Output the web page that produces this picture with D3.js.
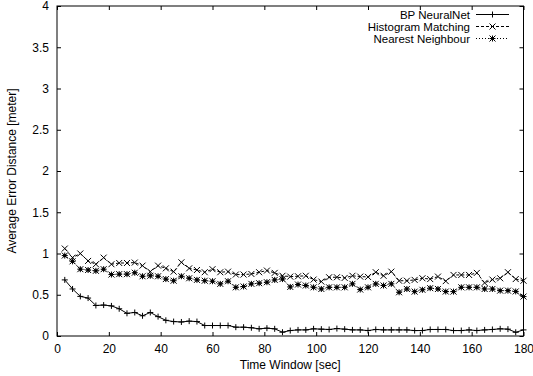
<!DOCTYPE html>
<html><head><meta charset="utf-8">
<script src="https://cdn.jsdelivr.net/npm/d3@7"></script>
<style>
body{margin:0;background:#fff;}
text{font-family:"Liberation Sans",Arial,sans-serif;font-size:12px;fill:#000;}
</style></head><body>
<svg id="c" width="533" height="376"></svg>
<script>
const times = d3.range(3, 181, 3);
const bpNeuralNet = [0.68,0.57,0.48,0.46,0.37,0.375,0.365,0.33,0.275,0.285,
  0.245,0.285,0.235,0.19,0.175,0.17,0.18,0.175,0.127,0.127,
  0.127,0.127,0.107,0.107,0.10,0.087,0.095,0.087,0.046,0.066,
  0.074,0.074,0.087,0.083,0.079,0.09,0.083,0.074,0.074,0.066,
  0.079,0.074,0.074,0.074,0.074,0.066,0.066,0.079,0.079,0.079,
  0.066,0.066,0.074,0.066,0.074,0.079,0.087,0.083,0.045,0.074];
const histogramMatching = [1.06,0.95,1.0,0.91,0.87,0.95,0.87,0.885,0.885,0.89,
  0.853,0.78,0.853,0.82,0.78,0.893,0.82,0.80,0.773,0.81,
  0.773,0.78,0.745,0.745,0.752,0.773,0.793,0.765,0.73,0.72,
  0.724,0.73,0.684,0.66,0.712,0.712,0.704,0.73,0.72,0.716,
  0.773,0.73,0.78,0.67,0.67,0.68,0.70,0.69,0.72,0.665,
  0.74,0.74,0.74,0.765,0.644,0.684,0.70,0.773,0.69,0.67];
const nearestNeighbour = [0.975,0.905,0.81,0.80,0.79,0.81,0.745,0.75,0.75,0.767,
  0.724,0.73,0.724,0.69,0.67,0.724,0.70,0.68,0.67,0.664,
  0.632,0.664,0.59,0.60,0.632,0.64,0.652,0.68,0.69,0.595,
  0.624,0.612,0.59,0.57,0.59,0.59,0.59,0.632,0.563,0.59,
  0.632,0.612,0.632,0.53,0.57,0.538,0.56,0.58,0.57,0.539,
  0.538,0.59,0.59,0.59,0.57,0.57,0.55,0.55,0.54,0.478];
const xTicks = d3.range(0, 181, 20);
const yTicks = [0,0.5,1,1.5,2,2.5,3,3.5,4];
const seriesNames = ["BP NeuralNet","Histogram Matching","Nearest Neighbour"];

const svg = d3.select("#c");
const L=57, R=523.5, T=6, B=336;
const x = d3.scaleLinear().domain([0,180]).range([L,R]);
const y = d3.scaleLinear().domain([0,4]).range([B,T]);

const tl = 4;
const gB = svg.append("g").attr("transform",`translate(0,${B})`)
  .call(d3.axisBottom(x).tickValues(xTicks).tickSizeInner(-tl).tickSizeOuter(0).tickPadding(8).tickFormat(d3.format("d")));
const gT = svg.append("g").attr("transform",`translate(0,${T})`)
  .call(d3.axisTop(x).tickValues(xTicks).tickSizeInner(-tl).tickSizeOuter(0).tickFormat(""));
const gL = svg.append("g").attr("transform",`translate(${L},0)`)
  .call(d3.axisLeft(y).tickValues(yTicks).tickSizeInner(-tl).tickSizeOuter(0).tickPadding(8).tickFormat(d=>d3.format("")(d)));
const gR = svg.append("g").attr("transform",`translate(${R},0)`)
  .call(d3.axisRight(y).tickValues(yTicks).tickSizeInner(-tl).tickSizeOuter(0).tickFormat(""));
[gB,gT,gL,gR].forEach(g=>{
  g.select(".domain").remove();
  g.selectAll("line").attr("stroke","#000");
  g.selectAll("text").style("font-family","'Liberation Sans',Arial,sans-serif").style("font-size","12px").attr("fill","#000");
});
svg.append("rect").attr("x",L).attr("y",T).attr("width",R-L).attr("height",B-T)
  .attr("fill","none").attr("stroke","#000").attr("stroke-width",1);

svg.append("text").attr("x",(L+R)/2).attr("y",369).attr("text-anchor","middle").text("Time Window [sec]");
svg.append("text").attr("transform",`translate(16,${(T+B)/2}) rotate(-90)`).attr("text-anchor","middle").text("Average Error Distance [meter]");

function plus(g,cx,cy,s){g.append("path").attr("d",`M${cx-s},${cy}H${cx+s}M${cx},${cy-s}V${cy+s}`).attr("stroke","#000").attr("fill","none");}
function cross(g,cx,cy,s){g.append("path").attr("d",`M${cx-s},${cy-s}L${cx+s},${cy+s}M${cx-s},${cy+s}L${cx+s},${cy-s}`).attr("stroke","#000").attr("fill","none");}
function star(g,cx,cy,s){plus(g,cx,cy,s);cross(g,cx,cy,s);
  g.append("rect").attr("x",cx-1.5).attr("y",cy-1.5).attr("width",3).attr("height",3).attr("fill","#000");}
const styles = [
  {data:bpNeuralNet, dash:null, mk:plus},
  {data:histogramMatching, dash:"3,2", mk:cross},
  {data:nearestNeighbour, dash:"1,2", mk:star}
];
const line = d3.line().x((d,i)=>x(times[i])).y(d=>y(d));
styles.forEach(s=>{
  svg.append("path").datum(s.data).attr("d",line).attr("fill","none").attr("stroke","#000")
    .attr("stroke-width",1).attr("stroke-dasharray",s.dash);
  const g = svg.append("g");
  s.data.forEach((v,i)=>s.mk(g,x(times[i]),y(v),3));
});

const lx2 = 470, ly0 = 14.5, lsp = 12;
seriesNames.forEach((n,i)=>{
  const yy = ly0 + i*lsp;
  svg.append("text").attr("x",lx2).attr("y",yy+4).attr("text-anchor","end").style("font-size","11.5px").text(n);
  svg.append("line").attr("x1",476).attr("x2",509).attr("y1",yy).attr("y2",yy)
    .attr("stroke","#000").attr("stroke-dasharray",styles[i].dash);
  const g = svg.append("g");
  styles[i].mk(g,492.5,yy,3);
});
</script>
</body></html>
